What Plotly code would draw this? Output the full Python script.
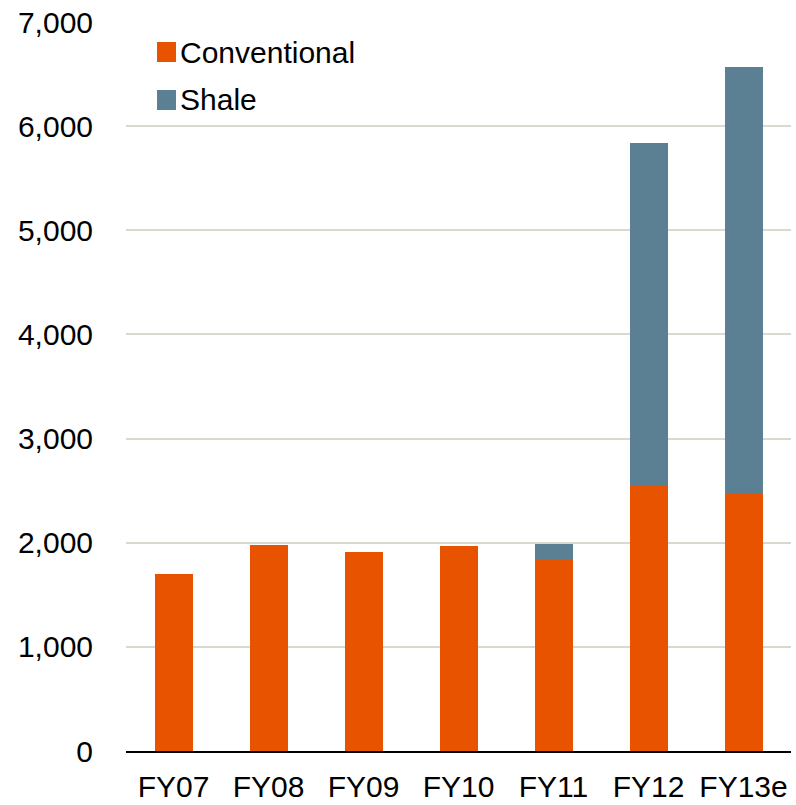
import plotly.graph_objects as go

categories = ["FY07", "FY08", "FY09", "FY10", "FY11", "FY12", "FY13e"]
conventional = [1700, 1980, 1910, 1965, 1830, 2540, 2465]
shale = [0, 0, 0, 0, 155, 3295, 4105]
y_ticks = [0, 1000, 2000, 3000, 4000, 5000, 6000, 7000]
y_tick_labels = ["0", "1,000", "2,000", "3,000", "4,000", "5,000", "6,000", "7,000"]

ORANGE = "#E85300"
BLUE = "#5B7F93"
W, H = 796, 805
ML, MR, MT, MB = 126, 5, 22, 54

fig = go.Figure()
fig.add_trace(go.Bar(x=categories, y=conventional, name="Conventional",
                     marker=dict(color=ORANGE, line=dict(width=0)), showlegend=False))
fig.add_trace(go.Bar(x=categories, y=shale, name="Shale",
                     marker=dict(color=BLUE, line=dict(width=0)), showlegend=False))

pw = W - ML - MR
ph = H - MT - MB
def px_x(x):
    return (x - ML) / pw
def px_y(y):
    return (H - MB - y) / ph

legend_items = [("Conventional", ORANGE, 52), ("Shale", BLUE, 100)]
shapes = []
annotations = []
for name, col, cy in legend_items:
    shapes.append(dict(type="rect", xref="paper", yref="paper",
                       x0=px_x(157), x1=px_x(176), y0=px_y(cy - 10), y1=px_y(cy + 10),
                       fillcolor=col, line=dict(width=0)))
    annotations.append(dict(xref="paper", yref="paper", x=px_x(178), y=px_y(cy),
                            text=name, showarrow=False, xanchor="left", yanchor="middle",
                            font=dict(family="Liberation Sans, Arial", size=30, color="#000")))

fig.update_layout(
    width=W, height=H,
    margin=dict(l=ML, r=MR, t=MT, b=MB, autoexpand=False),
    barmode="stack",
    bargap=0.6,
    plot_bgcolor="white",
    paper_bgcolor="white",
    font=dict(family="Liberation Sans, Arial", size=30, color="#000"),
    shapes=shapes,
    annotations=annotations,
    xaxis=dict(showgrid=False, showline=True, linecolor="#000", linewidth=2,
               automargin=False,
               ticks="outside", ticklen=8, tickcolor="rgba(0,0,0,0)",
               tickfont=dict(size=30)),
    yaxis=dict(range=[0, 7000], tickvals=y_ticks, ticktext=y_tick_labels,
               automargin=False,
               showgrid=True, gridcolor="#D9D9D0", gridwidth=2,
               zeroline=False, showline=False,
               ticks="outside", ticklen=26, tickcolor="rgba(0,0,0,0)",
               tickfont=dict(size=30)),
)

fig.write_html("out.html", config={"displayModeBar": False},
               post_script="document.body.style.margin='0';document.body.style.padding='0';document.documentElement.style.overflow='hidden';")
